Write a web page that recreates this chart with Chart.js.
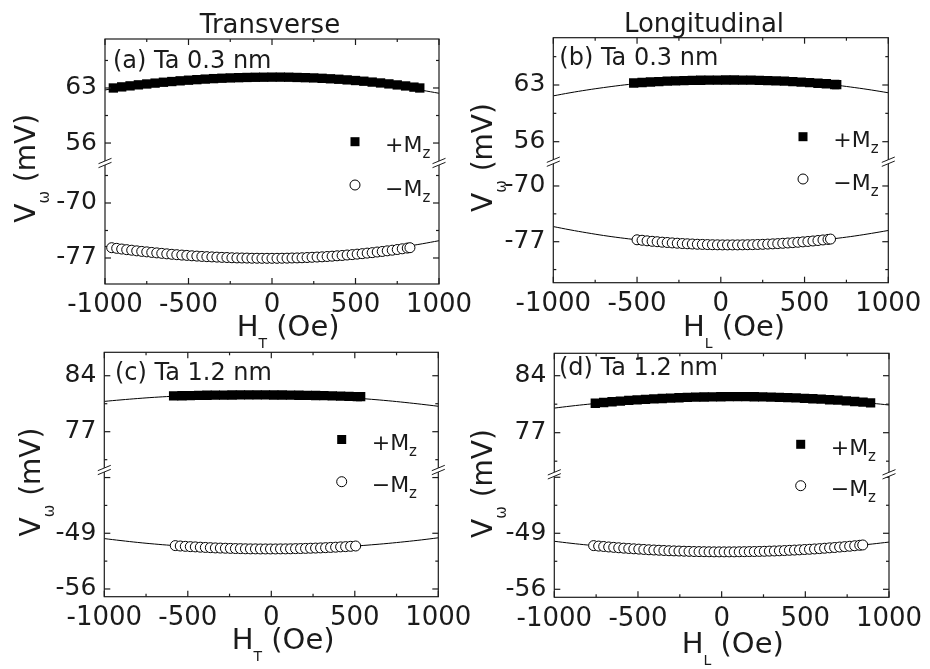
<!DOCTYPE html>
<html>
<head>
<meta charset="utf-8">
<script src="https://cdn.jsdelivr.net/npm/chart.js@4.4.1/dist/chart.umd.min.js"></script>
<style>
  html, body { margin: 0; padding: 0; background: #fff; width: 930px; height: 669px; overflow: hidden; }
  .panel { position: absolute; width: 500px; height: 360px; }
  .panel canvas { display: block; }
</style>
</head>
<body>
<div class="panel" style="left:0px;top:0px"><canvas id="pa" width="500" height="360"></canvas></div>
<div class="panel" style="left:465px;top:0px"><canvas id="pb" width="500" height="360"></canvas></div>
<div class="panel" style="left:0px;top:318px"><canvas id="pc" width="500" height="360"></canvas></div>
<div class="panel" style="left:465px;top:318px"><canvas id="pd" width="500" height="360"></canvas></div>
<script>
// ---- shared axis values (Oe) ----
const fieldTicks = [-1000, -500, 0, 500, 1000];
const fitField = [-1000, -900, -800, -700, -600, -500, -400, -300, -200, -100, 0, 100, 200, 300, 400, 500, 600, 700, 800, 900, 1000];

// ---- (a) Ta 0.3 nm, transverse ----
const aTopTicks = [56, 63];
const aBottomTicks = [-77, -70];
const aPlusField = [-950, -900, -850, -800, -750, -700, -650, -600, -550, -500, -450, -400, -350, -300, -250, -200, -150, -100, -50, 0, 50, 100, 150, 200, 250, 300, 350, 400, 450, 500, 550, 600, 650, 700, 750, 800, 850, 885];
const aPlusV = [63.00, 63.14, 63.27, 63.40, 63.51, 63.62, 63.73, 63.82, 63.91, 63.99, 64.06, 64.13, 64.19, 64.24, 64.28, 64.31, 64.34, 64.36, 64.37, 64.38, 64.38, 64.37, 64.34, 64.31, 64.28, 64.23, 64.17, 64.11, 64.03, 63.95, 63.86, 63.75, 63.64, 63.52, 63.39, 63.26, 63.11, 63.00];
const aMinusField = [-960, -930, -900, -870, -840, -810, -780, -750, -720, -690, -660, -630, -600, -570, -540, -510, -480, -450, -420, -390, -360, -330, -300, -270, -240, -210, -180, -150, -120, -90, -60, -30, 0, 30, 60, 90, 120, 150, 180, 210, 240, 270, 300, 330, 360, 390, 420, 450, 480, 510, 540, 570, 600, 630, 660, 690, 720, 750, 780, 810, 826];
const aMinusV = [-75.69, -75.77, -75.86, -75.94, -76.01, -76.09, -76.16, -76.22, -76.29, -76.35, -76.41, -76.47, -76.53, -76.58, -76.63, -76.67, -76.72, -76.76, -76.80, -76.83, -76.86, -76.89, -76.92, -76.94, -76.97, -76.99, -77.00, -77.01, -77.03, -77.03, -77.04, -77.04, -77.04, -77.04, -77.03, -77.02, -77.00, -76.99, -76.97, -76.94, -76.91, -76.88, -76.85, -76.81, -76.77, -76.72, -76.68, -76.62, -76.57, -76.51, -76.45, -76.38, -76.32, -76.24, -76.17, -76.09, -76.01, -75.92, -75.83, -75.74, -75.69];
const aPlusFit = [62.75, 63.08, 63.38, 63.63, 63.85, 64.04, 64.18, 64.29, 64.36, 64.40, 64.39, 64.35, 64.28, 64.16, 64.01, 63.82, 63.60, 63.34, 63.04, 62.70, 62.33];
const aMinusFit = [-75.54, -75.86, -76.13, -76.37, -76.58, -76.74, -76.87, -76.97, -77.02, -77.04, -77.02, -76.97, -76.87, -76.74, -76.58, -76.37, -76.13, -75.86, -75.54, -75.19, -74.80];

// ---- (b) Ta 0.3 nm, longitudinal ----
const bTopTicks = [56, 63];
const bBottomTicks = [-77, -70];
const bPlusField = [-520, -470, -420, -370, -320, -270, -220, -170, -120, -70, -20, 30, 80, 130, 180, 230, 280, 330, 380, 430, 480, 530, 580, 630, 680, 692];
const bPlusV = [63.25, 63.31, 63.37, 63.42, 63.47, 63.50, 63.54, 63.57, 63.59, 63.60, 63.61, 63.62, 63.62, 63.61, 63.60, 63.57, 63.55, 63.51, 63.47, 63.42, 63.36, 63.30, 63.22, 63.15, 63.06, 63.04];
const bMinusField = [-500, -470, -440, -410, -380, -350, -320, -290, -260, -230, -200, -170, -140, -110, -80, -50, -20, 10, 40, 70, 100, 130, 160, 190, 220, 250, 280, 310, 340, 370, 400, 430, 460, 490, 520, 550, 580, 610, 640, 655];
const bMinusV = [-76.76, -76.82, -76.89, -76.95, -77.00, -77.06, -77.10, -77.15, -77.19, -77.23, -77.26, -77.29, -77.32, -77.34, -77.36, -77.38, -77.39, -77.40, -77.40, -77.40, -77.40, -77.39, -77.38, -77.37, -77.35, -77.33, -77.30, -77.27, -77.24, -77.20, -77.16, -77.12, -77.07, -77.02, -76.97, -76.91, -76.85, -76.78, -76.71, -76.67];
const bPlusFit = [61.66, 62.04, 62.38, 62.68, 62.95, 63.18, 63.37, 63.52, 63.63, 63.71, 63.75, 63.75, 63.71, 63.63, 63.52, 63.37, 63.18, 62.95, 62.68, 62.38, 62.04];
const bMinusFit = [-75.10, -75.51, -75.88, -76.22, -76.51, -76.76, -76.97, -77.13, -77.26, -77.35, -77.39, -77.40, -77.36, -77.28, -77.16, -77.00, -76.80, -76.56, -76.28, -75.95, -75.59];

// ---- (c) Ta 1.2 nm, transverse ----
const cTopTicks = [77, 84];
const cBottomTicks = [-56, -49];
const cPlusField = [-585, -535, -485, -435, -385, -335, -285, -235, -185, -135, -85, -35, 15, 65, 115, 165, 215, 265, 315, 365, 415, 465, 515, 535];
const cPlusV = [81.47, 81.50, 81.52, 81.54, 81.56, 81.57, 81.58, 81.59, 81.60, 81.60, 81.60, 81.60, 81.59, 81.59, 81.57, 81.56, 81.55, 81.53, 81.51, 81.48, 81.45, 81.42, 81.39, 81.38];
const cMinusField = [-575, -545, -515, -485, -455, -425, -395, -365, -335, -305, -275, -245, -215, -185, -155, -125, -95, -65, -35, -5, 25, 55, 85, 115, 145, 175, 205, 235, 265, 295, 325, 355, 385, 415, 445, 475, 505];
const cMinusV = [-50.55, -50.60, -50.64, -50.68, -50.71, -50.75, -50.78, -50.81, -50.84, -50.86, -50.88, -50.90, -50.92, -50.93, -50.95, -50.96, -50.96, -50.97, -50.97, -50.97, -50.97, -50.96, -50.96, -50.95, -50.93, -50.92, -50.90, -50.88, -50.86, -50.84, -50.81, -50.78, -50.75, -50.71, -50.68, -50.64, -50.60];
const cPlusFit = [80.79, 80.98, 81.15, 81.30, 81.42, 81.52, 81.59, 81.65, 81.67, 81.68, 81.66, 81.62, 81.55, 81.46, 81.35, 81.21, 81.05, 80.87, 80.66, 80.43, 80.18];
const cMinusFit = [-49.67, -49.92, -50.15, -50.35, -50.52, -50.66, -50.78, -50.86, -50.93, -50.96, -50.97, -50.95, -50.90, -50.83, -50.73, -50.61, -50.45, -50.27, -50.06, -49.83, -49.57];

// ---- (d) Ta 1.2 nm, longitudinal ----
const dTopTicks = [77, 84];
const dBottomTicks = [-56, -49];
const dPlusField = [-755, -705, -655, -605, -555, -505, -455, -405, -355, -305, -255, -205, -155, -105, -55, -5, 45, 95, 145, 195, 245, 295, 345, 395, 445, 495, 545, 595, 645, 695, 745, 795, 845, 890];
const dPlusV = [80.62, 80.71, 80.80, 80.88, 80.96, 81.03, 81.09, 81.15, 81.20, 81.25, 81.29, 81.33, 81.36, 81.38, 81.40, 81.41, 81.42, 81.42, 81.42, 81.41, 81.39, 81.37, 81.34, 81.31, 81.27, 81.22, 81.17, 81.12, 81.05, 80.99, 80.91, 80.83, 80.75, 80.67];
const dMinusField = [-765, -735, -705, -675, -645, -615, -585, -555, -525, -495, -465, -435, -405, -375, -345, -315, -285, -255, -225, -195, -165, -135, -105, -75, -45, -15, 15, 45, 75, 105, 135, 165, 195, 225, 255, 285, 315, 345, 375, 405, 435, 465, 495, 525, 555, 585, 615, 645, 675, 705, 735, 765, 795, 825, 843];
const dMinusV = [-50.54, -50.60, -50.65, -50.71, -50.76, -50.81, -50.86, -50.90, -50.94, -50.98, -51.02, -51.06, -51.09, -51.12, -51.15, -51.18, -51.20, -51.22, -51.24, -51.26, -51.28, -51.29, -51.30, -51.31, -51.32, -51.32, -51.32, -51.32, -51.32, -51.31, -51.30, -51.29, -51.28, -51.27, -51.25, -51.23, -51.21, -51.19, -51.16, -51.13, -51.10, -51.07, -51.03, -51.00, -50.96, -50.92, -50.87, -50.82, -50.78, -50.72, -50.67, -50.62, -50.56, -50.50, -50.46];
const dPlusFit = [80.02, 80.27, 80.49, 80.69, 80.87, 81.02, 81.14, 81.25, 81.33, 81.38, 81.41, 81.42, 81.40, 81.36, 81.30, 81.21, 81.10, 80.96, 80.80, 80.61, 80.40];
const dMinusFit = [-50.00, -50.25, -50.47, -50.66, -50.83, -50.98, -51.10, -51.19, -51.26, -51.30, -51.32, -51.31, -51.28, -51.22, -51.14, -51.03, -50.89, -50.73, -50.55, -50.34, -50.10];

// ---- page layout: canvas origin, plot box and text anchors in page pixels ----
const FONT = '"DejaVu Sans", "Liberation Sans", sans-serif';
const INK = '#1b1b1b';
const CW = 500, CH = 360;

const PANELS = [
  { id: 'pa', origin: [0, 0], area: [105, 39, 439, 284],
    top: { min: 53.46, max: 69.23, weight: 124, ticks: aTopTicks },
    bottom: { min: -80.31, max: -64.91, weight: 121, ticks: aBottomTicks },
    plus: [aPlusField, aPlusV], minus: [aMinusField, aMinusV], fits: [aPlusFit, aMinusFit],
    tag: '(a) Ta 0.3 nm', tagAt: [113, 68.3], column: { text: 'Transverse', cx: 270, by: 32.7 },
    xSub: 'T', xTitleAt: [236.7, 336], yTitleAt: [35, 168.3], legendAt: [355, 141.7, 43.3, 385] },
  { id: 'pb', origin: [465, 0], area: [553.3, 37.7, 888.3, 282.7],
    top: { min: 53.53, max: 68.84, weight: 124, ticks: bTopTicks },
    bottom: { min: -82.15, max: -66.95, weight: 121, ticks: bBottomTicks },
    plus: [bPlusField, bPlusV], minus: [bMinusField, bMinusV], fits: [bPlusFit, bMinusFit],
    tag: '(b) Ta 0.3 nm', tagAt: [559.3, 65], column: { text: 'Longitudinal', cx: 704, by: 31.7 },
    xSub: 'L', xTitleAt: [683, 336], yTitleAt: [492, 157.5], legendAt: [803, 136.7, 42.3, 833.3] },
  { id: 'pc', origin: [0, 318], area: [104.3, 352.3, 438.3, 596.7],
    top: { min: 72.21, max: 86.93, weight: 117.7, ticks: cTopTicks },
    bottom: { min: -56.97, max: -41.05, weight: 126.7, ticks: cBottomTicks },
    plus: [cPlusField, cPlusV], minus: [cMinusField, cMinusV], fits: [cPlusFit, cMinusFit],
    tag: '(c) Ta 1.2 nm', tagAt: [115, 380], column: null,
    xSub: 'T', xTitleAt: [231.7, 649.3], yTitleAt: [40, 482], legendAt: [341.7, 439.5, 42.2, 371.7] },
  { id: 'pd', origin: [465, 318], area: [554.3, 353.3, 889, 597.3],
    top: { min: 71.89, max: 86.75, weight: 121, ticks: dTopTicks },
    bottom: { min: -57.0, max: -41.63, weight: 123, ticks: dBottomTicks },
    plus: [dPlusField, dPlusV], minus: [dMinusField, dMinusV], fits: [dPlusFit, dMinusFit],
    tag: '(d) Ta 1.2 nm', tagAt: [559, 375], column: null,
    xSub: 'L', xTitleAt: [681.7, 652.7], yTitleAt: [492, 483.5], legendAt: [800.7, 444.3, 41.4, 830.7] }
];

function points(xs, ys) { return xs.map((x, i) => ({ x: x, y: ys[i] })); }

// Draws a run of text pieces [text, size, dy] left to right; returns its width.
function textRun(ctx, x, y, parts, measureOnly) {
  let cx = x;
  for (const [t, size, dy] of parts) {
    ctx.font = size + 'px ' + FONT;
    if (!measureOnly) ctx.fillText(t, cx, y + dy);
    cx += ctx.measureText(t).width;
  }
  return cx - x;
}

// Frame with inward ticks, axis-break marks, titles and legend.
function decorations(p) {
  return {
    id: 'decor_' + p.id,
    afterDraw(chart) {
      const ctx = chart.ctx, a = chart.chartArea;
      const sx = chart.scales.x, yt = chart.scales.yTop, yb = chart.scales.yBot;
      const ox = p.origin[0], oy = p.origin[1];
      const line = (x1, y1, x2, y2) => { ctx.beginPath(); ctx.moveTo(x1, y1); ctx.lineTo(x2, y2); ctx.stroke(); };
      ctx.save();
      ctx.strokeStyle = INK; ctx.fillStyle = INK; ctx.lineWidth = 1.2; ctx.lineCap = 'butt';

      ctx.strokeRect(a.left, a.top, a.right - a.left, a.bottom - a.top);

      fieldTicks.forEach((v, i) => {
        const px = sx.getPixelForValue(v);
        line(px, a.bottom, px, a.bottom - 6); line(px, a.top, px, a.top + 6);
        if (i < fieldTicks.length - 1) {
          const m = sx.getPixelForValue((v + fieldTicks[i + 1]) / 2);
          line(m, a.bottom, m, a.bottom - 3); line(m, a.top, m, a.top + 3);
        }
      });

      [[yt, p.top.ticks], [yb, p.bottom.ticks]].forEach(([s, major]) => {
        const step = (major[1] - major[0]) / 2;
        for (let k = -6; k <= 12; k++) {
          const v = major[0] + k * step;
          if (v < s.min || v > s.max) continue;
          const len = (k % 2 === 0) ? 6 : 3;
          const py = s.getPixelForValue(v);
          line(a.left, py, a.left + len, py); line(a.right, py, a.right - len, py);
        }
      });

      const by = yt.bottom;
      [a.left, a.right].forEach(bx => {
        ctx.fillStyle = '#fff';
        ctx.beginPath();
        ctx.moveTo(bx - 6, by + 4.5); ctx.lineTo(bx + 6, by - 0.5);
        ctx.lineTo(bx + 6, by - 4.5); ctx.lineTo(bx - 6, by + 0.5);
        ctx.closePath(); ctx.fill();
        ctx.lineWidth = 1;
        line(bx - 6.5, by + 4.7, bx + 6.5, by - 0.7);
        line(bx - 6.5, by + 0.7, bx + 6.5, by - 4.7);
        ctx.lineWidth = 1.2;
      });

      ctx.fillStyle = INK;
      ctx.textBaseline = 'alphabetic';
      ctx.textAlign = 'left';

      if (p.column) {
        ctx.font = '26px ' + FONT; ctx.textAlign = 'center';
        ctx.fillText(p.column.text, p.column.cx - ox, p.column.by - oy);
        ctx.textAlign = 'left';
      }

      ctx.font = '24px ' + FONT;
      ctx.fillText(p.tag, p.tagAt[0] - ox, p.tagAt[1] - oy);

      textRun(ctx, p.xTitleAt[0] - ox, p.xTitleAt[1] - oy, [['H', 29, 0], [p.xSub, 14, 12], [' (Oe)', 29, 0]]);

      const yParts = [['V', 28, 0], ['\u03C9', 15, 14], [' (mV)', 28, 0]];
      const w = textRun(ctx, 0, 0, yParts, true);
      ctx.save();
      ctx.translate(p.yTitleAt[0] - ox, p.yTitleAt[1] - oy);
      ctx.rotate(-Math.PI / 2);
      textRun(ctx, -w / 2, 0, yParts);
      ctx.restore();

      const [mx, my, dy, tx] = p.legendAt;
      ctx.fillStyle = '#000';
      ctx.fillRect(mx - ox - 4.5, my - oy - 4.5, 9, 9);
      ctx.beginPath(); ctx.arc(mx - ox, my + dy - oy, 5, 0, Math.PI * 2);
      ctx.fillStyle = '#fff'; ctx.fill(); ctx.lineWidth = 1; ctx.strokeStyle = '#000'; ctx.stroke();
      ctx.fillStyle = INK;
      textRun(ctx, tx - ox, my - oy + 10.6, [['+M', 22, 0], ['z', 15, 6]]);
      textRun(ctx, tx - ox, my + dy - oy + 10.6, [['\u2212M', 22, 0], ['z', 15, 6]]);
      ctx.restore();
    }
  };
}

function yScale(p, part) {
  const spec = p[part];
  return {
    type: 'linear', position: 'left', stack: 'v', stackWeight: spec.weight,
    min: spec.min, max: spec.max, offset: false,
    afterBuildTicks(s) { s.ticks = spec.ticks.map(v => ({ value: v })); },
    afterFit(s) {
      s.width = p.area[0] - p.origin[0];
      s.paddingTop = 0; s.paddingBottom = 0; s.paddingLeft = 0; s.paddingRight = 0;
    },
    grid: { display: false, drawTicks: false },
    border: { display: false },
    ticks: { font: { family: FONT, size: 25 }, color: INK, padding: 8, callback: v => String(v) }
  };
}

PANELS.forEach(p => {
  const [ox, oy] = p.origin;
  const [L, T, R, B] = p.area;
  new Chart(document.getElementById(p.id), {
    type: 'scatter',
    data: {
      datasets: [
        { data: points(p.plus[0], p.plus[1]), yAxisID: 'yTop', pointStyle: 'rect', pointRadius: 6.6,
          pointBackgroundColor: '#000', pointBorderColor: '#000', pointBorderWidth: 0, showLine: false },
        { data: points(p.minus[0], p.minus[1]), yAxisID: 'yBot', pointStyle: 'circle', pointRadius: 5,
          pointBackgroundColor: '#fff', pointBorderColor: '#000', pointBorderWidth: 1, showLine: false },
        { data: points(fitField, p.fits[0]), yAxisID: 'yTop', showLine: true, pointRadius: 0,
          borderColor: '#000', borderWidth: 1, tension: 0.4, fill: false },
        { data: points(fitField, p.fits[1]), yAxisID: 'yBot', showLine: true, pointRadius: 0,
          borderColor: '#000', borderWidth: 1, tension: 0.4, fill: false }
      ]
    },
    options: {
      responsive: false, animation: false, devicePixelRatio: 1, events: [],
      layout: { padding: { left: 0, top: T - oy, right: ox + CW - R, bottom: 0 } },
      plugins: { legend: { display: false }, tooltip: { enabled: false }, title: { display: false } },
      scales: {
        x: {
          type: 'linear', position: 'bottom', min: -1000, max: 1000,
          afterBuildTicks(s) { s.ticks = fieldTicks.map(v => ({ value: v })); },
          afterFit(s) {
            s.height = oy + CH - B;
            s.paddingTop = 0; s.paddingBottom = 0; s.paddingLeft = 0; s.paddingRight = 0;
          },
          grid: { display: false, drawTicks: false },
          border: { display: false },
          ticks: { font: { family: FONT, size: 26 }, color: INK, padding: 6, autoSkip: false,
                   maxRotation: 0, minRotation: 0, callback: v => String(v) }
        },
        yBot: yScale(p, 'bottom'),
        yTop: yScale(p, 'top')
      }
    },
    plugins: [decorations(p)]
  });
});
</script>
</body>
</html>
